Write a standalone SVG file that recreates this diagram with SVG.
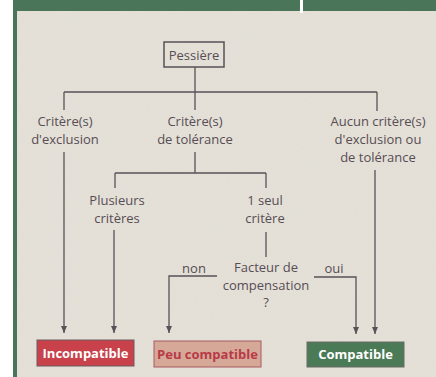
<svg xmlns="http://www.w3.org/2000/svg" width="436" height="377" viewBox="0 0 436 377">
<defs>
<style>
.t{font-family:"Open Sans","Noto Sans",sans-serif;font-size:13px;fill:#574d55;text-anchor:middle}
.b{font-family:"Open Sans","Noto Sans",sans-serif;font-size:13px;font-weight:bold;text-anchor:middle}
.c{fill:none;stroke:#5a5057;stroke-width:1.3}
.a{marker-end:url(#arr)}
</style>
<marker id="arr" markerUnits="userSpaceOnUse" markerWidth="7" markerHeight="6" refX="7" refY="3" orient="auto">
<path d="M0,0 L7,3 L0,6 Z" fill="#5a5057"/>
</marker>
<filter id="noise" x="0" y="0" width="100%" height="100%">
<feTurbulence type="fractalNoise" baseFrequency="0.9" numOctaves="1" seed="3" result="n"/>
<feColorMatrix in="n" type="matrix" values="0 0 0 0 0.5  0 0 0 0 0.5  0 0 0 0 0.55  0 0 0 0.12 0"/>
<feComposite in2="SourceGraphic" operator="in"/>
</filter>
</defs>
<rect x="0" y="0" width="436" height="377" fill="#ffffff"/>
<rect x="17" y="11" width="419" height="366" fill="#e6e2d8"/>
<rect x="17" y="11" width="419" height="366" fill="#e6e2d8" filter="url(#noise)"/>
<rect x="13" y="0" width="423" height="11" fill="#4b7558"/>
<rect x="13" y="0" width="4" height="377" fill="#4b7558"/>
<rect x="300" y="0" width="3" height="13" fill="#ffffff"/>

<g id="connectors">
<path class="c" d="M195,67 V92"/>
<path class="c" d="M64,92 H377"/>
<path class="c" d="M64,92 V110"/>
<path class="c" d="M195,92 V110"/>
<path class="c" d="M377,92 V111"/>
<path class="c a" d="M64,152 V333"/>
<path class="c" d="M195,152 V173"/>
<path class="c" d="M115,173 H266"/>
<path class="c" d="M115,173 V188"/>
<path class="c" d="M266,173 V188"/>
<path class="c a" d="M114,230 V333"/>
<path class="c" d="M266,232 V257"/>
<path class="c a" d="M217,276 H169 V333"/>
<path class="c a" d="M314,277 H356 V334"/>
<path class="c a" d="M375,170 V334"/>
</g>

<g id="pessiere">
<rect x="164" y="42" width="60" height="25" fill="none" stroke="#5a5057" stroke-width="1.5"/>
<text class="t" x="194" y="59.5">Pessière</text>
</g>
<g id="exclusion">
<text class="t" x="65" y="126.3">Critère(s)</text>
<text class="t" x="65" y="144">d'exclusion</text>
</g>
<g id="tolerance">
<text class="t" x="195" y="126.3">Critère(s)</text>
<text class="t" x="195" y="144">de tolérance</text>
</g>
<g id="aucun">
<text class="t" x="378" y="126.3">Aucun critère(s)</text>
<text class="t" x="378" y="144">d'exclusion ou</text>
<text class="t" x="378" y="161.7">de tolérance</text>
</g>
<g id="plusieurs">
<text class="t" x="117" y="205.3">Plusieurs</text>
<text class="t" x="117" y="223">critères</text>
</g>
<g id="seul">
<text class="t" x="265" y="205.3">1 seul</text>
<text class="t" x="265" y="223">critère</text>
</g>
<g id="facteur">
<text class="t" x="266" y="272">Facteur de</text>
<text class="t" x="266" y="289.7">compensation</text>
<text class="t" x="266" y="307.4">?</text>
</g>
<g id="labels">
<text class="t" x="194" y="273">non</text>
<text class="t" x="334" y="273">oui</text>
</g>
<g id="incompatible">
<rect x="37" y="340" width="97" height="26" fill="#c8414b" stroke="#6a5a5e" stroke-width="1"/>
<text class="b" x="85.5" y="357.5" fill="#ffffff">Incompatible</text>
</g>
<g id="peu">
<rect x="154" y="341" width="107" height="26" fill="#d6a898" stroke="#a85a5e" stroke-width="1"/>
<text class="b" x="207.5" y="358.5" fill="#b83a47">Peu compatible</text>
</g>
<g id="compatible">
<rect x="307" y="342" width="97" height="25" fill="#4b7a56" stroke="#6a6a66" stroke-width="1"/>
<text class="b" x="355.5" y="359" fill="#ffffff">Compatible</text>
</g>
</svg>
